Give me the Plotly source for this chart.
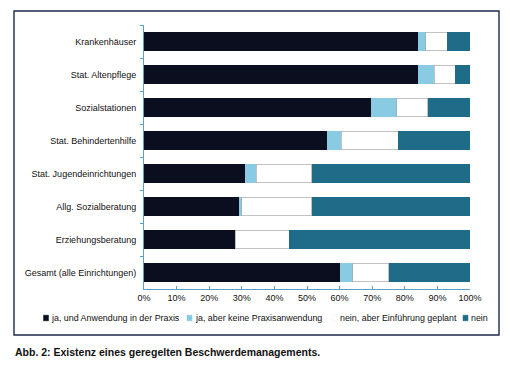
import plotly.graph_objects as go

categories = [
    "Krankenhäuser",
    "Stat. Altenpflege",
    "Sozialstationen",
    "Stat. Behindertenhilfe",
    "Stat. Jugendeinrichtungen",
    "Allg. Sozialberatung",
    "Erziehungsberatung",
    "Gesamt (alle Einrichtungen)",
]
ja_praxis = [84, 84, 69.5, 56, 31, 29, 28, 60]
ja_keine = [2.5, 5, 8, 4.5, 3.5, 1, 0, 4]
nein_geplant = [6.5, 6.5, 9.5, 17.5, 17, 21.5, 16.5, 11]
nein = [7, 4.5, 13, 22, 48.5, 48.5, 55.5, 25]

series_names = [
    "ja, und Anwendung in der Praxis",
    "ja, aber keine Praxisanwendung",
    "nein, aber Einführung geplant",
    "nein",
]
series_values = [ja_praxis, ja_keine, nein_geplant, nein]
colors = ["#0b0e1e", "#8acbe4", "#ffffff", "#1e6c88"]
line_colors = ["#0b0e1e", "#8acbe4", "#a8a8a8", "#1e6c88"]
line_widths = [0, 0, 0.7, 0]

x_ticks = list(range(0, 101, 10))
x_ticklabels = [f"{t}%" for t in x_ticks]

W, H = 510, 366
L, R, T, B = 144, 40, 25, 77
PW, PH = W - L - R, H - T - B

def px(x):
    return (x - L) / PW

def py(y):
    return (H - B - y) / PH

FONT = "Liberation Sans, Arial, sans-serif"

fig = go.Figure()
for name, vals, c, lc, lw in zip(series_names, series_values, colors, line_colors, line_widths):
    fig.add_trace(go.Bar(
        y=categories, x=vals, name=name, orientation="h",
        marker=dict(color=c, line=dict(color=lc, width=lw)),
        showlegend=False,
    ))

fig.update_layout(
    barmode="stack",
    bargap=0.45,
    width=W, height=H,
    margin=dict(l=L, r=R, t=T, b=B, pad=0),
    paper_bgcolor="white",
    plot_bgcolor="white",
    font=dict(family=FONT, size=9, color="#111111"),
    xaxis=dict(
        range=[0, 100], tickvals=x_ticks, ticktext=x_ticklabels,
        showgrid=False, zeroline=False,
        showline=True, linecolor="#5b9fc7", linewidth=1,
        ticks="inside", ticklen=3, tickcolor="#5b9fc7",
        tickfont=dict(size=9, color="#111111"),
    ),
    yaxis=dict(
        autorange="reversed", showgrid=False, zeroline=False,
        showline=True, linecolor="#5b9fc7", linewidth=1,
        ticks="outside", ticklen=3, tickcolor="#5b9fc7",
        tickson="boundaries", ticklabelstandoff=5,
        tickfont=dict(size=9, color="#111111"),
    ),
)

# frame around chart
fig.add_shape(type="rect", xref="paper", yref="paper",
              x0=px(14), x1=px(499), y0=py(335), y1=py(11),
              line=dict(color="#1c2a4a", width=1.4), fillcolor="rgba(0,0,0,0)", layer="below")

# manual legend
leg_y = 318
sq_x = [43.5, 187, 332, 463]
txt_x = [48.5, 192.5, 338, 469]
for name, c, sx, tx in zip(series_names, colors, sq_x, txt_x):
    fig.add_shape(type="rect", xref="paper", yref="paper",
                  x0=px(sx), x1=px(sx + 5), y0=py(leg_y + 2.8), y1=py(leg_y - 2.8),
                  fillcolor=c, line=dict(color=c if c != "#ffffff" else "#f0f0f0", width=0.5))
    fig.add_annotation(xref="paper", yref="paper", x=px(tx), y=py(leg_y),
                       xanchor="left", yanchor="middle", showarrow=False,
                       text=name, font=dict(size=8.9, color="#111111", family=FONT))

fig.add_annotation(xref="paper", yref="paper", x=px(13), y=py(352),
                   xanchor="left", yanchor="middle", showarrow=False,
                   text="<b>Abb. 2: Existenz eines geregelten Beschwerdemanagements.</b>",
                   font=dict(size=10.5, color="#111111", family=FONT))

fig.write_html("out.html", config={"displayModeBar": False},
               post_script="document.body.style.margin='0';document.body.style.padding='0';")
